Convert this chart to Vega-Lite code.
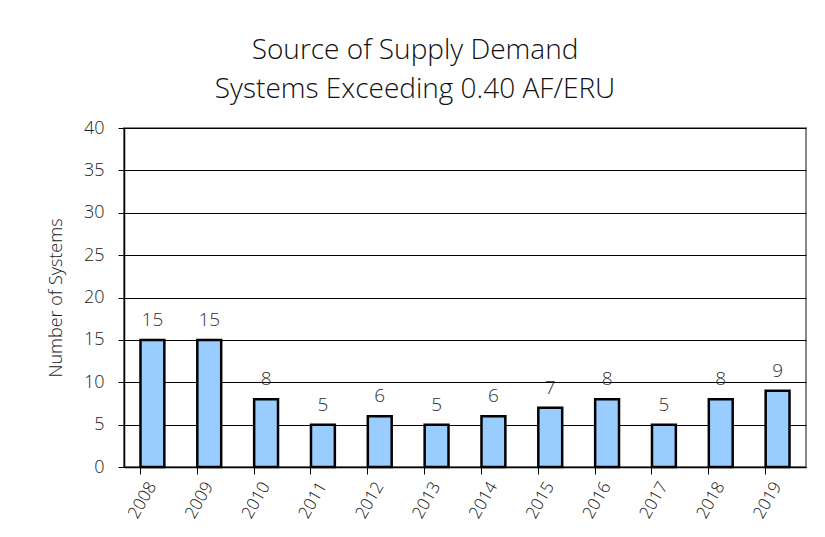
{
  "$schema": "https://vega.github.io/schema/vega-lite/v6.json",
  "autosize": "none",
  "width": 682,
  "height": 339,
  "padding": {"left": 124, "top": 128, "right": 19, "bottom": 70},
  "background": "white",
  "title": {
    "text": ["Source of Supply Demand", "Systems Exceeding 0.40 AF/ERU"],
    "fontSize": 28,
    "font": "Open Sans",
    "fontWeight": 300,
    "color": "#111",
    "lineHeight": 39,
    "dx": -50,
    "offset": 15
  },
  "data": {
    "values": [
      {"year": "2008", "systems": 15},
      {"year": "2009", "systems": 15},
      {"year": "2010", "systems": 8},
      {"year": "2011", "systems": 5},
      {"year": "2012", "systems": 6},
      {"year": "2013", "systems": 5},
      {"year": "2014", "systems": 6},
      {"year": "2015", "systems": 7},
      {"year": "2016", "systems": 8},
      {"year": "2017", "systems": 5},
      {"year": "2018", "systems": 8},
      {"year": "2019", "systems": 9}
    ]
  },
  "encoding": {
    "x": {
      "field": "year",
      "type": "ordinal",
      "scale": {"paddingInner": 0.58, "paddingOuter": 0.29},
      "axis": {
        "title": null,
        "labelAngle": -60,
        "labelAlign": "right",
        "labelBaseline": "middle",
        "bandPosition": 0,
        "labelFontSize": 17,
        "labelFont": "Open Sans",
        "labelFontWeight": 300,
        "labelColor": "#111",
        "labelPadding": 9,
        "tickSize": 7,
        "tickColor": "#000",
        "domainColor": "#000",
        "domainWidth": 1.5,
        "grid": false
      }
    },
    "y": {
      "field": "systems",
      "type": "quantitative",
      "scale": {"domain": [0, 40]},
      "axis": {
        "title": "Number of Systems",
        "values": [0, 5, 10, 15, 20, 25, 30, 35, 40],
        "titleFontSize": 18,
        "titleFont": "Open Sans",
        "titleFontWeight": 300,
        "titleColor": "#222",
        "titlePadding": 18,
        "labelFontSize": 18,
        "labelFont": "Open Sans",
        "labelFontWeight": 300,
        "labelColor": "#222",
        "labelPadding": 14,
        "tickSize": 6,
        "tickColor": "#000",
        "domainColor": "#000",
        "domainWidth": 1.5,
        "gridColor": "#000",
        "gridWidth": 1,
        "gridOpacity": 1
      }
    }
  },
  "layer": [
    {
      "mark": {"type": "bar", "fill": "#99CCFF", "stroke": "#000", "strokeWidth": 2.5}
    },
    {
      "mark": {"type": "text", "dy": -20, "fontSize": 19, "font": "Open Sans", "fontWeight": 300, "color": "#333"},
      "encoding": {"text": {"field": "systems", "type": "quantitative"}}
    }
  ],
  "config": {
    "view": {"stroke": "#888", "strokeWidth": 2}
  }
}
